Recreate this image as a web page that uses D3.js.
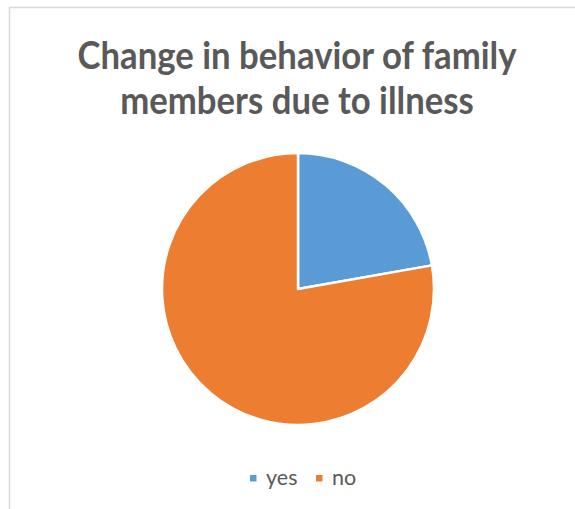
<!DOCTYPE html>
<html>
<head>
<meta charset="utf-8">
<script src="https://cdn.jsdelivr.net/npm/d3@7"></script>
<style>
  html, body { margin: 0; padding: 0; background: #fff; }
  svg { display: block; }
</style>
</head>
<body>
<svg id="chart" width="575" height="509"></svg>
<script>
// Survey answers
const categories = ["yes", "no"];
const counts = [20, 70];
const colors = ["#5B9BD5", "#ED7D31"];
const titleLines = ["Change in behavior of family", "members due to illness"];

const W = 575, H = 509;
const svg = d3.select("#chart");
const fontFamily = "Lato, 'Open Sans', 'DejaVu Sans', sans-serif";
const textColor = "#595959";

// Chart area frame
svg.append("rect")
  .attr("x", 9.5).attr("y", 7.5)
  .attr("width", W).attr("height", H)
  .attr("fill", "#fff")
  .attr("stroke", "#d9d9d9")
  .attr("stroke-width", 1.5);

// Title, sized so the first line spans its intended width
const cx = 297;
const baselines = [69, 114];
const title = svg.append("g")
  .attr("font-family", fontFamily)
  .attr("font-weight", "bold")
  .attr("fill", textColor);
const lines = title.selectAll("text")
  .data(titleLines)
  .join("text")
  .attr("text-anchor", "middle")
  .attr("transform", (d, i) => `translate(${cx},${baselines[i]}) scale(1,1.1)`)
  .attr("font-size", 36)
  .text(d => d);
const w36 = lines.node().getComputedTextLength();
lines.attr("font-size", 36 * 439 / w36);

// Pie
const pieCx = 298, pieCy = 289, radius = 136;
const pie = d3.pie().sort(null).value(d => d.value)
  .startAngle(0).endAngle(2 * Math.PI);
const arc = d3.arc().innerRadius(0).outerRadius(radius);
const data = categories.map((c, i) => ({ name: c, value: counts[i] }));
const color = d3.scaleOrdinal().domain(categories).range(colors);

svg.append("g")
  .attr("transform", `translate(${pieCx},${pieCy})`)
  .selectAll("path")
  .data(pie(data))
  .join("path")
  .attr("d", arc)
  .attr("fill", d => color(d.data.name))
  .attr("stroke", "#fff")
  .attr("stroke-width", 2.5)
  .attr("stroke-linejoin", "round");

// Legend
const legendY = 478;
const legend = svg.append("g").attr("font-family", fontFamily).attr("font-size", 21.5);
const items = legend.selectAll("g").data(categories).join("g");
const itemX = [250, 316];
items.append("rect")
  .attr("x", (d, i) => itemX[i])
  .attr("y", legendY - 3)
  .attr("width", 6.5).attr("height", 6.5)
  .attr("fill", d => color(d));
items.append("text")
  .attr("x", (d, i) => itemX[i] + 16)
  .attr("y", legendY + 7)
  .attr("fill", textColor)
  .text(d => d);
</script>
</body>
</html>
